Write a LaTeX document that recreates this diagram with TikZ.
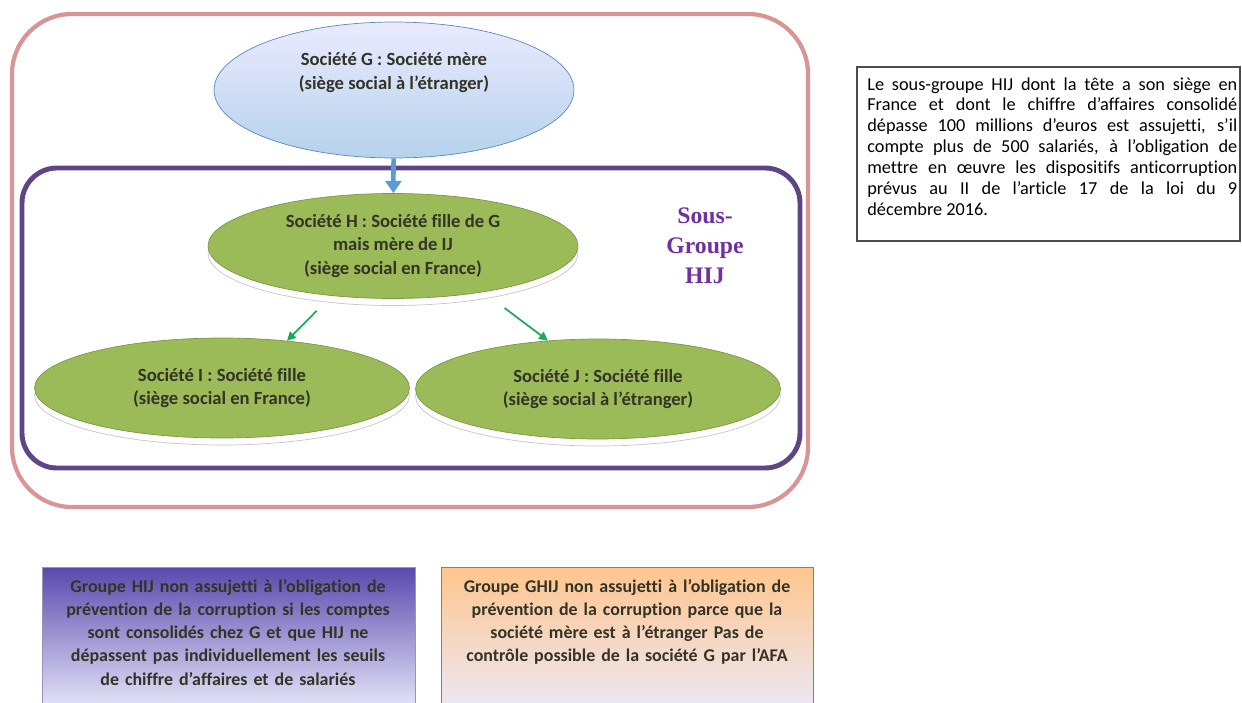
\documentclass[tikz,border=0pt]{standalone}
\usepackage{fontspec}
\setmainfont{Carlito}[Ligatures={NoCommon}]
\newfontfamily\titlefont{Liberation Serif}
\usetikzlibrary{arrows.meta, shapes.geometric}

\definecolor{framepink}{HTML}{D99594}
\definecolor{framepurple}{HTML}{5E4686}
\definecolor{mereblue}{HTML}{5B87C0}
\definecolor{fillgreen}{HTML}{9BBB59}
\definecolor{arrowblue}{HTML}{5B9BD5}
\definecolor{arrowgreen}{HTML}{22A85A}
\definecolor{titlepurple}{HTML}{7030A0}
\definecolor{textdark}{HTML}{333326}

\tikzset{
  societe/.style={ellipse, align=center, text=textdark, inner sep=0pt,
    font=\bfseries\fontsize{10.6}{13.6}\selectfont},
  fille/.style={societe, fill=fillgreen, draw=fillgreen!80!black,
    preaction={draw=gray!45, fill=white, transform canvas={yshift=-4pt}}},
  infobox/.style={draw=black!70, line width=0.8pt},
  notebox/.style={align=center, text=textdark, text width=7.2cm,
    font=\bfseries\fontsize{10.2}{13.2}\selectfont}
}

\begin{document}
\begin{tikzpicture}[x=0.02cm, y=-0.02cm]
\useasboundingbox (0,0) rectangle (1242,703);
\clip (0,0) rectangle (1242,703);

% frames
\draw [framepink, line width=2.4pt, rounded corners=1.2cm] (12,14) rectangle (808,507);
\draw [framepurple, line width=2.8pt, rounded corners=0.7cm] (22,168) rectangle (800,468);

% nodes
\node (G) [societe, minimum width=7.2cm, minimum height=2.72cm, text depth=0.75cm,
  top color=blue!8!white, bottom color=arrowblue!45, draw=mereblue]
  at (394, 90) {Société G : Société mère\\(siège social à l’étranger)};
\node (H) [fille, minimum width=7.4cm, minimum height=2.1cm]
  at (393, 246) {Société H : Société fille de G\\mais mère de IJ\\(siège social en France)};
\node (I) [fille, minimum width=7.5cm, minimum height=2cm]
  at (222, 388) {Société I : Société fille\\(siège social en France)};
\node (J) [fille, minimum width=7.3cm, minimum height=2cm]
  at (598, 389) {Société J : Société fille\\(siège social à l’étranger)};

\node (SG) [align=center, text=titlepurple, font=\titlefont\bfseries\fontsize{13.5}{17}\selectfont]
  at (705, 246) {Sous-\\Groupe\\HIJ};

\draw [arrowblue, line width=2.6pt, -{Triangle[length=7pt, width=9pt]}]
    (G) edge (H);
\draw [arrowgreen, line width=1pt, every edge/.append style={-{Triangle[length=5pt, width=5pt]}}]
    (H.219) edge [shorten <=12pt] (I.36)
    (H.333) edge [shorten <=15pt] (J.136)
    ;

% right note
\draw [infobox] (857,67) rectangle (1240,241);
\node (note) [anchor=north west, text width=7.4cm, align=justify, inner sep=0pt,
  font=\fontsize{10.4}{11.9}\selectfont, text=black]
  at (867,77) {Le sous-groupe HIJ dont la tête a son siège en\linebreak
  France et dont le chiffre d’affaires consolidé\linebreak
  dépasse 100 millions d’euros est assujetti, s’il\linebreak
  compte plus de 500 salariés, à l’obligation de\linebreak
  mettre en œuvre les dispositifs anticorruption\linebreak
  prévus au II de l’article 17 de la loi du 9\linebreak
  décembre 2016.};

% bottom boxes
\draw [draw=framepurple!60, top color=framepurple!75!blue!90, middle color=framepurple!35!white,
  bottom color=blue!5!white] (42,567) rectangle (415,720);
\node (HIJ) [notebox, anchor=north] at (228,573)
  {Groupe HIJ non assujetti à l’obligation de\\prévention de la corruption si les comptes\\
  sont consolidés chez G et que HIJ ne\\dépassent pas individuellement les seuils\\
  de chiffre d’affaires et de salariés};
\draw [draw=mereblue, top color=orange!45!white, middle color=red!8!white,
  bottom color=blue!8!white] (441,567) rectangle (813,720);
\node (GHIJ) [notebox, anchor=north] at (627,573)
  {Groupe GHIJ non assujetti à l’obligation de\\prévention de la corruption parce que la\\
  société mère est à l’étranger Pas de\\contrôle possible de la société G par l’AFA};
\end{tikzpicture}
\end{document}
